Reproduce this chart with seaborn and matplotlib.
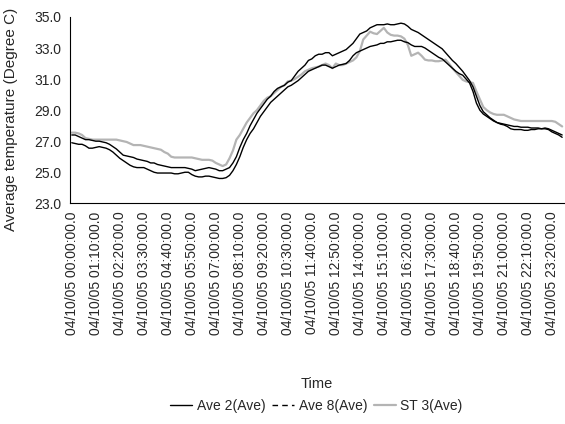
import matplotlib
matplotlib.use('Agg')
import matplotlib.pyplot as plt
from matplotlib.lines import Line2D
import seaborn as sns
import pandas as pd

# 10 minute readings, 04/10/05 00:00 to 23:50
ave2 = [27.4, 27.4, 27.3, 27.2, 27.1, 27.1,
        27.05, 27.0, 27.0, 26.95, 26.9, 26.8,
        26.65, 26.5, 26.3, 26.1, 26.05, 26.0,
        25.95, 25.85, 25.8, 25.75, 25.7, 25.6,
        25.6, 25.5, 25.45, 25.4, 25.35, 25.3,
        25.3, 25.3, 25.3, 25.3, 25.25, 25.2,
        25.1, 25.15, 25.2, 25.25, 25.3, 25.25,
        25.2, 25.1, 25.1, 25.2, 25.3, 25.6,
        26.0, 26.6, 27.1, 27.5, 28.0, 28.4,
        28.8, 29.1, 29.4, 29.7, 29.9, 30.2,
        30.4, 30.5, 30.6, 30.8, 30.9, 31.2,
        31.5, 31.7, 31.9, 32.2, 32.3, 32.5,
        32.6, 32.6, 32.7, 32.7, 32.5, 32.6,
        32.7, 32.8, 32.9, 33.1, 33.3, 33.6,
        33.9, 34.0, 34.1, 34.3, 34.4, 34.5,
        34.5, 34.5, 34.55, 34.5, 34.5, 34.55,
        34.6, 34.55, 34.4, 34.2, 34.1, 34.0,
        33.85, 33.7, 33.55, 33.4, 33.25, 33.1,
        32.95, 32.7, 32.45, 32.2, 32.0, 31.75,
        31.5, 31.2, 30.9, 30.5, 29.9, 29.3,
        28.9, 28.7, 28.5, 28.35, 28.2, 28.1,
        28.05, 27.95, 27.8, 27.75, 27.75, 27.75,
        27.7, 27.7, 27.75, 27.75, 27.8, 27.8,
        27.85, 27.8, 27.7, 27.6, 27.5, 27.4]

ave8 = [26.9, 26.85, 26.8, 26.8, 26.7, 26.55,
        26.55, 26.6, 26.65, 26.6, 26.55, 26.45,
        26.3, 26.1, 25.9, 25.75, 25.6, 25.45,
        25.35, 25.3, 25.3, 25.3, 25.2, 25.1,
        25.0, 24.95, 24.95, 24.95, 24.95, 24.95,
        24.9, 24.9, 24.95, 25.0, 25.0, 24.85,
        24.75, 24.7, 24.7, 24.75, 24.75, 24.7,
        24.65, 24.6, 24.6, 24.65, 24.8, 25.1,
        25.5, 26.0, 26.6, 27.1, 27.5, 27.8,
        28.2, 28.6, 28.9, 29.2, 29.5, 29.7,
        29.9, 30.1, 30.3, 30.5, 30.6, 30.75,
        30.9, 31.1, 31.3, 31.5, 31.6, 31.7,
        31.8, 31.9, 31.9, 31.8, 31.7, 31.8,
        31.9, 31.95, 32.0, 32.2, 32.5, 32.7,
        32.8, 32.9, 33.0, 33.1, 33.15, 33.2,
        33.3, 33.3, 33.4, 33.4, 33.45, 33.5,
        33.5, 33.4, 33.35, 33.2, 33.1, 33.1,
        33.1, 33.0, 32.85, 32.7, 32.55, 32.4,
        32.3, 32.1, 31.9, 31.7, 31.5, 31.35,
        31.25, 31.0, 30.75, 30.2, 29.45, 29.0,
        28.75, 28.6, 28.45, 28.3, 28.2, 28.15,
        28.1, 28.05, 28.0, 27.95, 27.95, 27.9,
        27.9, 27.9, 27.85, 27.85, 27.85, 27.8,
        27.8, 27.75, 27.6, 27.5, 27.4, 27.25]

st3 = [27.55, 27.55, 27.5, 27.4, 27.2, 27.15,
       27.1, 27.1, 27.1, 27.1, 27.1, 27.1,
       27.1, 27.1, 27.05, 27.0, 26.95, 26.85,
       26.75, 26.75, 26.75, 26.7, 26.65, 26.6,
       26.55, 26.5, 26.45, 26.3, 26.2, 26.0,
       25.95, 25.95, 25.95, 25.95, 25.95, 25.95,
       25.9, 25.85, 25.8, 25.8, 25.8, 25.75,
       25.6, 25.5, 25.4, 25.5, 25.9, 26.4,
       27.1, 27.4, 27.8, 28.2, 28.5, 28.8,
       29.0, 29.3, 29.6, 29.8, 29.9, 30.1,
       30.3, 30.5, 30.6, 30.85, 30.9, 31.0,
       31.15, 31.3, 31.5, 31.6, 31.7, 31.75,
       31.8, 31.9, 32.0, 31.9, 31.7, 32.0,
       31.9, 31.9, 32.0, 32.1, 32.2, 32.4,
       32.8, 33.55, 33.8, 34.05, 33.95, 33.9,
       34.1, 34.3, 34.0, 33.85, 33.8, 33.8,
       33.75, 33.6, 33.2, 32.5, 32.6, 32.7,
       32.5, 32.25, 32.2, 32.2, 32.15, 32.15,
       32.2, 32.25, 32.0, 31.7, 31.45, 31.2,
       30.95, 30.85, 30.8, 30.75, 30.2, 29.7,
       29.2, 29.0, 28.85, 28.75, 28.7, 28.7,
       28.7, 28.6, 28.5, 28.4, 28.35, 28.3,
       28.3, 28.3, 28.3, 28.3, 28.3, 28.3,
       28.3, 28.3, 28.3, 28.25, 28.1, 27.95]

times = ['04/10/05 %02d:%02d:00.0' % (m // 60, m % 60) for m in range(0, 1440, 10)]
series_names = ['Ave 2(Ave)', 'Ave 8(Ave)', 'ST 3(Ave)']

df = pd.DataFrame({'idx': range(len(times)), 'time': times,
                   'Ave 2(Ave)': ave2, 'Ave 8(Ave)': ave8, 'ST 3(Ave)': st3})

sns.set_style('white')
plt.rcParams['font.family'] = ['Liberation Sans', 'DejaVu Sans']

fig = plt.figure(figsize=(5.65, 4.24), dpi=100)
ax = fig.add_axes([0.124, 0.5205, 0.874, 0.4395])

colors = {'Ave 2(Ave)': 'black', 'Ave 8(Ave)': 'black', 'ST 3(Ave)': '#b4b4b4'}
widths = {'Ave 2(Ave)': 1.0, 'Ave 8(Ave)': 1.0, 'ST 3(Ave)': 1.6}
for name in ['ST 3(Ave)', 'Ave 8(Ave)', 'Ave 2(Ave)']:
    sns.lineplot(data=df, x='idx', y=name, ax=ax, color=colors[name],
                 linewidth=widths[name], legend=False)

ax.set_xlim(-0.5, len(times) - 0.5)
ax.set_ylim(23, 35)
ax.set_yticks([23, 25, 27, 29, 31, 33, 35])
ax.set_yticklabels(['%.1f' % v for v in [23, 25, 27, 29, 31, 33, 35]], fontsize=10)

major = list(range(0, len(times), 7))
ax.set_xticks(major)
ax.set_xticklabels([times[i] for i in major], rotation=90, fontsize=10)
ax.set_xticks([i - 0.5 for i in range(len(times) + 1)], minor=True)
ax.tick_params(axis='x', which='major', length=0, pad=6)
ax.tick_params(axis='x', which='minor', length=3, width=0.8, direction='out', color='black')
ax.tick_params(axis='y', which='major', length=4, width=0.8, direction='out', color='black', pad=2)

for s in ['top', 'right']:
    ax.spines[s].set_visible(False)
for s in ['left', 'bottom']:
    ax.spines[s].set_color('black')
    ax.spines[s].set_linewidth(0.8)

ax.set_xlabel('Time', fontsize=10.5, labelpad=30)
ax.set_ylabel('Average temperature (Degree C)', fontsize=11)
ax.yaxis.set_label_coords(-0.105, 0.45)

handles = [Line2D([], [], color='black', lw=1.0),
           Line2D([], [], color='black', lw=1.0, linestyle=(0, (4, 3))),
           Line2D([], [], color='#b4b4b4', lw=1.6)]
fig.legend(handles, series_names, loc='center', bbox_to_anchor=(0.56, 0.042),
           ncol=3, frameon=False, fontsize=10, handlelength=1.6,
           handletextpad=0.3, columnspacing=0.5)

fig.savefig('out.png', dpi=100)
